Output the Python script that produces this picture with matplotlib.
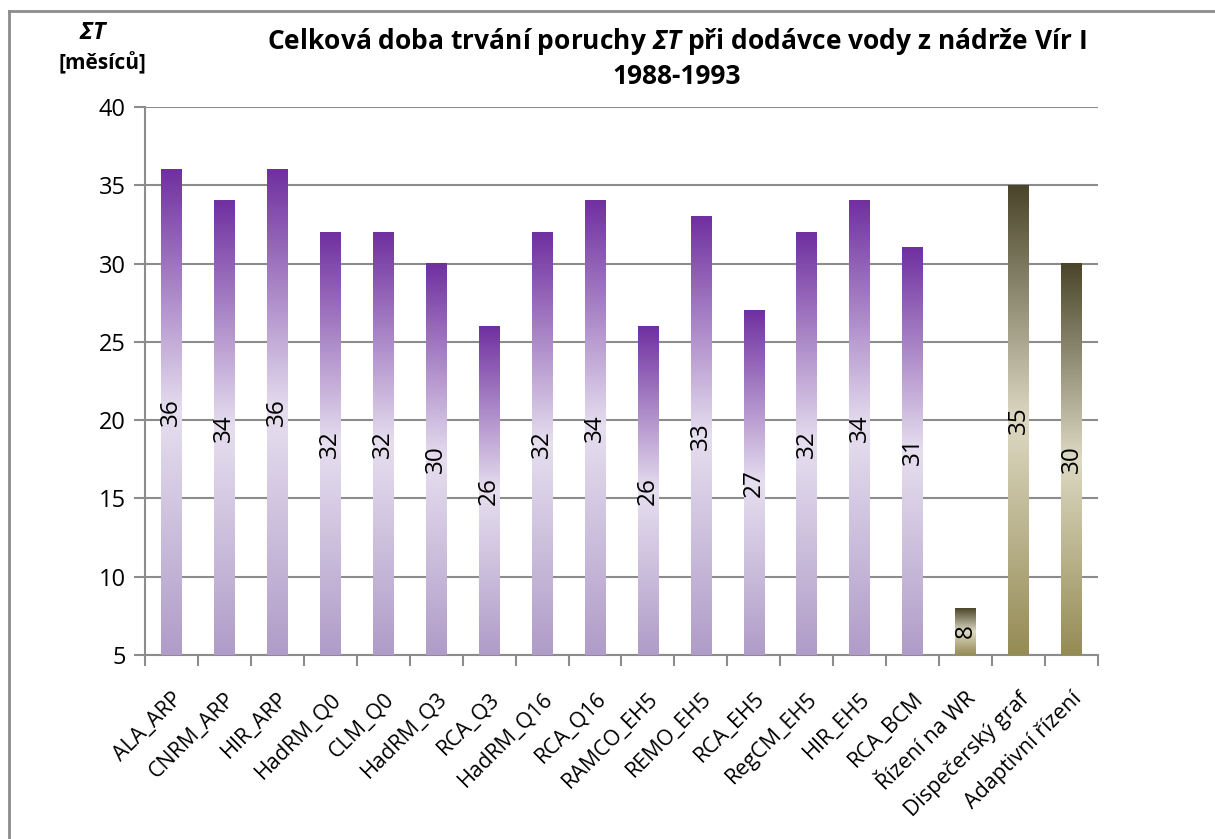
import numpy as np
import matplotlib
matplotlib.use('Agg')
import matplotlib.pyplot as plt
from matplotlib.colors import LinearSegmentedColormap
from matplotlib.lines import Line2D
from matplotlib.transforms import ScaledTranslation

plt.rcParams['font.family'] = ['Open Sans', 'DejaVu Sans']
plt.rcParams['mathtext.fontset'] = 'custom'
plt.rcParams['mathtext.rm'] = 'Open Sans'
plt.rcParams['mathtext.it'] = 'Open Sans:italic'
plt.rcParams['mathtext.bf'] = 'Open Sans:bold'
plt.rcParams['mathtext.bfit'] = 'Open Sans:italic:bold'

# doba trvani poruchy pro jednotlive modely a zpusoby rizeni
models = ['ALA_ARP', 'CNRM_ARP', 'HIR_ARP', 'HadRM_Q0', 'CLM_Q0', 'HadRM_Q3',
          'RCA_Q3', 'HadRM_Q16', 'RCA_Q16', 'RAMCO_EH5', 'REMO_EH5', 'RCA_EH5',
          'RegCM_EH5', 'HIR_EH5', 'RCA_BCM']
model_vals = [36, 34, 36, 32, 32, 30, 26, 32, 34, 26, 33, 27, 32, 34, 31]

control = ['Řízení na WR', 'Dispečerský graf', 'Adaptivní řízení']
control_vals = [8, 35, 30]

ymin, ymax = 5, 40
yticks = [5, 10, 15, 20, 25, 30, 35, 40]

purple = LinearSegmentedColormap.from_list(
    'purple', [(0.0, '#b09cc8'), (0.5, '#e6dfef'), (1.0, '#7030a0')])
olive = LinearSegmentedColormap.from_list(
    'olive', [(0.0, '#958b55'), (0.5, '#ddd9c3'), (1.0, '#4a452a')])

fig = plt.figure(figsize=(12.15, 8.39), dpi=100)
ax = fig.add_axes([0.1193, 0.2193, 0.7844, 0.6531])

labels = models + control
values = model_vals + control_vals
cmaps = [purple] * len(models) + [olive] * len(control)
width = 0.39
grad = np.linspace(0, 1, 256).reshape(-1, 1)

for i, (v, cm) in enumerate(zip(values, cmaps)):
    ax.imshow(grad, cmap=cm, origin='lower', aspect='auto',
              extent=(i - width / 2, i + width / 2, ymin, v), zorder=3,
              interpolation='bilinear')
    ax.text(i, (ymin + v) / 2, str(v), rotation=90, ha='center', va='center',
            fontsize=17.5, color='black', zorder=4)

ax.set_xlim(-0.5, len(labels) - 0.5)
ax.set_ylim(ymin, ymax)
ax.set_yticks(yticks)
ax.set_yticklabels([str(t) for t in yticks], fontsize=17)
ax.yaxis.grid(True, color='#8c8c8c', linewidth=1.5, zorder=1)
ax.set_axisbelow(True)

ax.set_xticks(np.arange(len(labels)))
ax.set_xticklabels(labels, rotation=45, ha='right', rotation_mode='anchor',
                   fontsize=15.5)
shift = ScaledTranslation(8 / 100, 0, fig.dpi_scale_trans)
for lab in ax.get_xticklabels():
    lab.set_transform(lab.get_transform() + shift)
ax.set_xticks(np.arange(len(labels) + 1) - 0.5, minor=True)
ax.tick_params(axis='x', which='major', length=0, pad=24)
ax.tick_params(axis='x', which='minor', length=8, width=1.5, color='#8c8c8c')
ax.tick_params(axis='y', length=8, width=1.5, color='#8c8c8c', pad=6)

for s in ['top', 'right']:
    ax.spines[s].set_visible(False)
for s in ['left', 'bottom']:
    ax.spines[s].set_color('#8c8c8c')
    ax.spines[s].set_linewidth(1.5)

fig.text(0.557, 0.931,
         'Celková doba trvání poruchy $\\mathbfit{\\Sigma T}$ při dodávce vody z nádrže Vír I\n1988-1993',
         ha='center', va='center', fontsize=19, fontweight='bold',
         linespacing=1.3)
fig.text(0.077, 0.961, '$\\mathbfit{\\Sigma T}$', ha='center', va='center',
         fontsize=17, fontweight='bold')
fig.text(0.084, 0.925, '[měsíců]', ha='center', va='center',
         fontsize=15, fontweight='bold')

# ramecek grafu
fig.add_artist(Line2D([9 / 1215, 1], [1 - 11 / 839, 1 - 11 / 839],
                      color='#8c8c8c', linewidth=2))
fig.add_artist(Line2D([9 / 1215, 9 / 1215], [0, 1 - 11 / 839],
                      color='#8c8c8c', linewidth=2))

fig.savefig('out.png', dpi=100)
